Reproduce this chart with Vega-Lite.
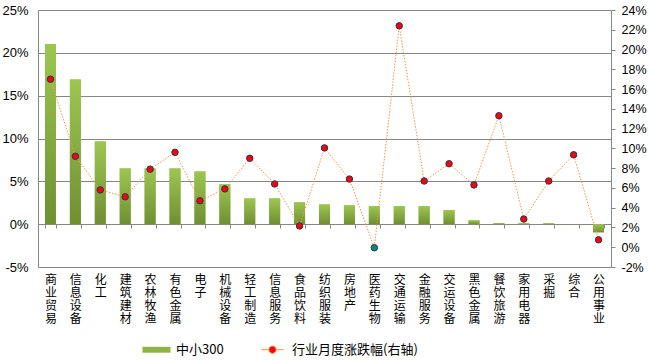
{
  "$schema": "https://vega.github.io/schema/vega-lite/v6.json",
  "width": 573,
  "height": 257,
  "autosize": {"type": "none"},
  "padding": {"left": 38, "top": 10, "right": 38, "bottom": 93},
  "background": "white",
  "config": {"view": {"stroke": null}, "font": "Liberation Sans", "axis": {"labelOverlap": false}},
  "data": {
    "values": [
      {"cat": "商业贸易", "bar": 21.0, "line": 17.0},
      {"cat": "信息设备", "bar": 16.9, "line": 9.2},
      {"cat": "化工", "bar": 9.65, "line": 5.8},
      {"cat": "建筑建材", "bar": 6.5, "line": 5.1},
      {"cat": "农林牧渔", "bar": 6.5, "line": 7.9},
      {"cat": "有色金属", "bar": 6.5, "line": 9.6},
      {"cat": "电子", "bar": 6.15, "line": 4.7},
      {"cat": "机械设备", "bar": 4.65, "line": 5.9},
      {"cat": "轻工制造", "bar": 3.0, "line": 9.0},
      {"cat": "信息服务", "bar": 3.0, "line": 6.4},
      {"cat": "食品饮料", "bar": 2.55, "line": 2.15},
      {"cat": "纺织服装", "bar": 2.3, "line": 10.05},
      {"cat": "房地产", "bar": 2.2, "line": 6.9},
      {"cat": "医药生物", "bar": 2.1, "line": -0.05},
      {"cat": "交通运输", "bar": 2.1, "line": 22.4},
      {"cat": "金融服务", "bar": 2.1, "line": 6.7},
      {"cat": "交运设备", "bar": 1.65, "line": 8.45},
      {"cat": "黑色金属", "bar": 0.45, "line": 6.3},
      {"cat": "餐饮旅游", "bar": 0.12, "line": 13.3},
      {"cat": "家用电器", "bar": 0.1, "line": 2.85},
      {"cat": "采掘", "bar": 0.1, "line": 6.7},
      {"cat": "综合", "bar": 0.02, "line": 9.35},
      {"cat": "公用事业", "bar": -0.95, "line": 0.75}
    ]
  },
  "encoding": {
    "x": {
      "field": "cat",
      "type": "nominal",
      "sort": null,
      "scale": {"paddingInner": 0.56, "paddingOuter": 0.28},
      "axis": {
        "title": null,
        "offset": -43,
        "domainColor": "#868686",
        "tickColor": "#868686",
        "tickSize": 4,
        "tickBand": "extent",
        "labelAngle": 0,
        "labelExpr": "split(datum.label, '')",
        "labelFont": "Noto Sans CJK SC",
        "labelFontSize": 12,
        "labelLineHeight": 13,
        "labelPadding": 46,
        "labelColor": "#000000",
        "labelBaseline": "top",
        "labelOverlap": false
      }
    }
  },
  "layer": [
    {
      "encoding": {
        "y": {
          "field": "bar",
          "type": "quantitative",
          "scale": {"domain": [-5, 25], "nice": false, "zero": false},
          "axis": {
            "title": null,
            "values": [-5, 0, 5, 10, 15, 20, 25],
            "labelExpr": "datum.value + '%'",
            "ticks": false,
            "labelPadding": 10,
            "labelFontSize": 13,
            "labelColor": "#000000",
            "labelOverlap": false,
            "domainColor": "#868686",
            "grid": true,
            "gridColor": "#868686",
            "gridOpacity": 1
          }
        }
      },
      "layer": [
        {
          "mark": {"type": "bar"},
          "encoding": {
            "color": {
              "datum": "中小300",
              "type": "nominal",
              "scale": {"domain": ["中小300", "行业月度涨跌幅(右轴)"], "range": ["#8DB345", "#FF0000"]},
              "legend": {
                "title": null,
                "orient": "none",
                "legendX": 104,
                "legendY": 325,
                "direction": "horizontal",
                "symbolSize": 784,
                "labelFont": "Noto Sans CJK SC",
                "labelFontSize": 13,
                "labelColor": "#000000",
                "labelOffset": 5,
                "columnPadding": 34,
                "padding": 0,
                "encode": {
                  "symbols": {
                    "update": {
                      "shape": {"signal": "datum.value === '中小300' ? 'M-1,-0.21H1V0.21H-1Z' : 'M-0.8,0H-0.3M0.3,0H0.8M-0.26,0A0.26,0.26 0 1,1 0.26,0A0.26,0.26 0 1,1 -0.26,0Z'"},
                      "stroke": {"signal": "datum.value === '中小300' ? 'transparent' : '#F79646'"},
                      "strokeWidth": {"value": 1},
                      "opacity": {"value": 1}
                    }
                  }
                }
              }
            }
          }
        },
        {
          "mark": {
            "type": "bar",
            "fill": {
              "gradient": "linear",
              "x1": 0, "y1": 0, "x2": 0, "y2": 1,
              "stops": [
                {"offset": 0, "color": "#9DC650"},
                {"offset": 1, "color": "#6F8F33"}
              ]
            }
          },
          "encoding": {}
        }
      ]
    },
    {
      "encoding": {
        "y": {
          "field": "line",
          "type": "quantitative",
          "scale": {"domain": [-2, 24], "nice": false, "zero": false},
          "axis": {
            "title": null,
            "orient": "right",
            "values": [-2, 0, 2, 4, 6, 8, 10, 12, 14, 16, 18, 20, 22, 24],
            "labelExpr": "datum.value + '%'",
            "tickSize": 4,
            "tickColor": "#868686",
            "domainColor": "#868686",
            "labelPadding": 6,
            "labelFontSize": 12.5,
            "labelColor": "#000000",
            "labelOverlap": false,
            "grid": false
          }
        }
      },
      "layer": [
        {
          "mark": {"type": "line", "stroke": "#F79646", "strokeDash": [1.5, 1.5], "strokeWidth": 1},
          "encoding": {}
        },
        {
          "mark": {"type": "point", "filled": true, "size": 42, "stroke": "#1F3864", "strokeWidth": 1, "opacity": 1},
          "encoding": {
            "color": {"datum": "行业月度涨跌幅(右轴)", "type": "nominal"},
            "fill": {"condition": {"test": "datum.line < 0", "value": "#0E8A6A"}, "value": "#FF0000"}
          }
        }
      ]
    }
  ],
  "resolve": {"scale": {"y": "independent"}}
}
